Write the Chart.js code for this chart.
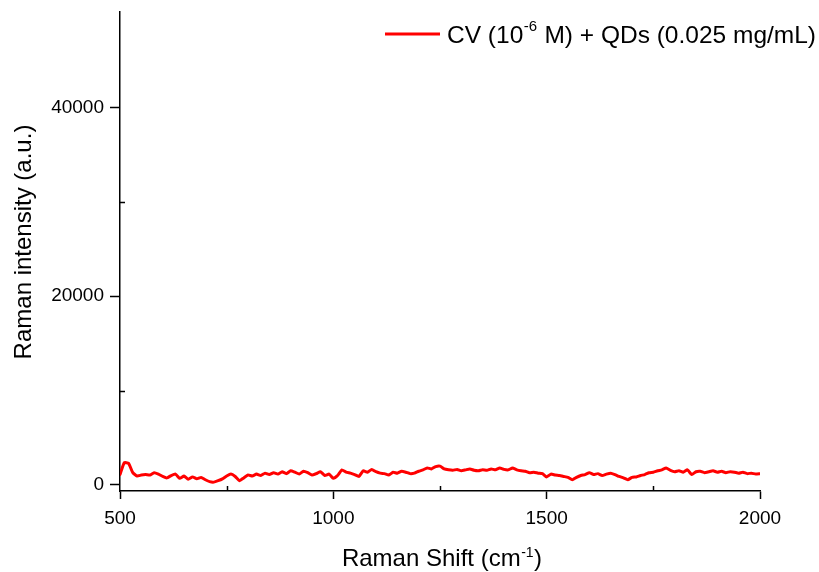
<!DOCTYPE html>
<html>
<head>
<meta charset="utf-8">
<script src="https://cdn.jsdelivr.net/npm/chart.js@4.4.1/dist/chart.umd.min.js"></script>
<style>
  html, body { margin: 0; padding: 0; background: #fff; }
  canvas { display: block; }
</style>
</head>
<body>
<canvas id="c" width="819" height="572"></canvas>
<script>
// ---- Data ----
const ramanShift = [
  500,510,520,530,540,550,560,570,580,590,600,610,620,630,640,650,660,670,680,690,
  700,710,720,730,740,750,760,770,780,790,800,810,820,830,840,850,860,870,880,890,
  900,910,920,930,940,950,960,970,980,990,1000,1010,1020,1030,1040,1050,1060,1070,1080,1090,
  1100,1110,1120,1130,1140,1150,1160,1170,1180,1190,1200,1210,1220,1230,1240,1250,1260,1270,1280,1290,
  1300,1310,1320,1330,1340,1350,1360,1370,1380,1390,1400,1410,1420,1430,1440,1450,1460,1470,1480,1490,
  1500,1510,1520,1530,1540,1550,1560,1570,1580,1590,1600,1610,1620,1630,1640,1650,1660,1670,1680,1690,
  1700,1710,1720,1730,1740,1750,1760,1770,1780,1790,1800,1810,1820,1830,1840,1850,1860,1870,1880,1890,
  1900,1910,1920,1930,1940,1950,1960,1970,1980,1990,2000
];
const intensity = [
  1100,2350,2300,1300,950,1050,1100,1050,1300,1150,900,750,1000,1150,700,950,600,850,650,800,
  550,350,300,450,650,950,1150,900,450,750,1050,950,1150,1000,1250,1100,1300,1150,1400,1200,
  1500,1350,1150,1450,1300,1050,1200,1400,1000,1150,700,1000,1600,1350,1250,1100,900,1500,1350,1650,
  1400,1250,1200,1050,1350,1250,1450,1350,1200,1250,1450,1600,1800,1700,1950,2000,1700,1600,1550,1650,
  1500,1600,1700,1550,1500,1600,1550,1700,1600,1800,1650,1600,1800,1600,1500,1450,1300,1350,1250,1200,
  850,1150,1050,1000,900,800,550,800,1000,1100,1300,1100,1200,1000,1150,1250,1100,900,750,550,
  800,850,1000,1100,1300,1350,1500,1600,1800,1550,1400,1500,1350,1600,1100,1400,1450,1300,1400,1500,
  1350,1450,1300,1400,1350,1250,1350,1200,1250,1150,1200
];
const xTicks = [500, 1000, 1500, 2000];
const xMinorTicks = [750, 1250, 1750];
const yTicks = [0, 20000, 40000];
const yMinorTicks = [10000, 30000];
const xRange = [500, 2000];
const yRange = [-640, 50100];
const xTitle = ["Raman Shift (cm", "-1", ")"];
const yTitle = "Raman intensity (a.u.)";
const legendParts = ["CV (10", "-6", " M) + QDs (0.025 mg/mL)"];

const FONT = "'Liberation Sans', Arial, Helvetica, sans-serif";

function drawSupText(ctx, parts, x, y, mainSize, supSize, raise, align) {
  ctx.font = mainSize + "px " + FONT;
  const w0 = ctx.measureText(parts[0]).width;
  const w2 = ctx.measureText(parts[2]).width;
  ctx.font = supSize + "px " + FONT;
  const w1 = ctx.measureText(parts[1]).width;
  const total = w0 + w1 + w2 + 1;
  let sx = align === "center" ? x - total / 2 : x;
  ctx.textAlign = "left";
  ctx.textBaseline = "alphabetic";
  ctx.font = mainSize + "px " + FONT;
  ctx.fillText(parts[0], sx, y);
  ctx.font = supSize + "px " + FONT;
  ctx.fillText(parts[1], sx + w0 + 0.5, y - raise);
  ctx.font = mainSize + "px " + FONT;
  ctx.fillText(parts[2], sx + w0 + w1 + 1, y);
}

const decorPlugin = {
  id: "decor",
  afterDraw(chart) {
    const ctx = chart.ctx;
    const xs = chart.scales.x, ys = chart.scales.y;
    const area = chart.chartArea;
    ctx.save();
    // minor ticks
    ctx.strokeStyle = "#000";
    ctx.lineWidth = 1.5;
    ctx.beginPath();
    xMinorTicks.forEach(v => {
      const px = Math.round(xs.getPixelForValue(v)) + 0.5;
      ctx.moveTo(px, area.bottom);
      ctx.lineTo(px, area.bottom - 5);
    });
    yMinorTicks.forEach(v => {
      const py = Math.round(ys.getPixelForValue(v)) + 0.5;
      ctx.moveTo(area.left, py);
      ctx.lineTo(area.left + 5, py);
    });
    ctx.stroke();

    ctx.fillStyle = "#000";
    // x title
    drawSupText(ctx, xTitle, (area.left + area.right) / 2 + 2, 566, 24, 14, 9, "center");
    // y title
    ctx.save();
    ctx.translate(31, 242);
    ctx.rotate(-Math.PI / 2);
    ctx.font = "24px " + FONT;
    ctx.textAlign = "center";
    ctx.textBaseline = "alphabetic";
    ctx.fillText(yTitle, 0, 0);
    ctx.restore();

    // legend
    const ds = chart.data.datasets[0];
    ctx.strokeStyle = ds.borderColor;
    ctx.lineWidth = 3;
    ctx.beginPath();
    ctx.moveTo(385, 34);
    ctx.lineTo(440, 34);
    ctx.stroke();
    ctx.fillStyle = "#000";
    drawSupText(ctx, legendParts, 447, 43, 24.5, 15, 12, "left");
    ctx.restore();
  }
};

new Chart(document.getElementById("c"), {
  type: "line",
  data: {
    datasets: [{
      label: legendParts.join(""),
      data: ramanShift.map((x, i) => ({ x: x, y: intensity[i] })),
      borderColor: "#ff0000",
      borderWidth: 3,
      pointRadius: 0,
      tension: 0.15,
      fill: false,
      borderJoinStyle: "round",
      borderCapStyle: "round"
    }]
  },
  options: {
    responsive: false,
    animation: false,
    devicePixelRatio: 1,
    layout: { padding: { left: 0, right: 59, top: 12, bottom: 0 } },
    plugins: { legend: { display: false }, tooltip: { enabled: false } },
    scales: {
      x: {
        type: "linear",
        min: xRange[0], max: xRange[1],
        afterBuildTicks: s => { s.ticks = xTicks.map(v => ({ value: v })); },
        afterFit: s => { s.height = 81; },
        ticks: {
          color: "#000", font: { family: FONT, size: 19 }, padding: 8,
          maxRotation: 0, autoSkip: false, callback: v => String(v)
        },
        grid: { drawOnChartArea: false, tickLength: 8, tickColor: "#000", tickWidth: 1.5 },
        border: { color: "#000", width: 1.5 }
      },
      y: {
        type: "linear",
        min: yRange[0], max: yRange[1],
        afterBuildTicks: s => { s.ticks = yTicks.map(v => ({ value: v })); },
        afterFit: s => { s.width = 120; s.paddingTop = 0; s.paddingBottom = 0; },
        ticks: {
          color: "#000", font: { family: FONT, size: 19 }, padding: 6,
          autoSkip: false, callback: v => String(v)
        },
        grid: { drawOnChartArea: false, tickLength: 10, tickColor: "#000", tickWidth: 1.5 },
        border: { color: "#000", width: 1.5 }
      }
    }
  },
  plugins: [decorPlugin]
});
</script>
</body>
</html>
